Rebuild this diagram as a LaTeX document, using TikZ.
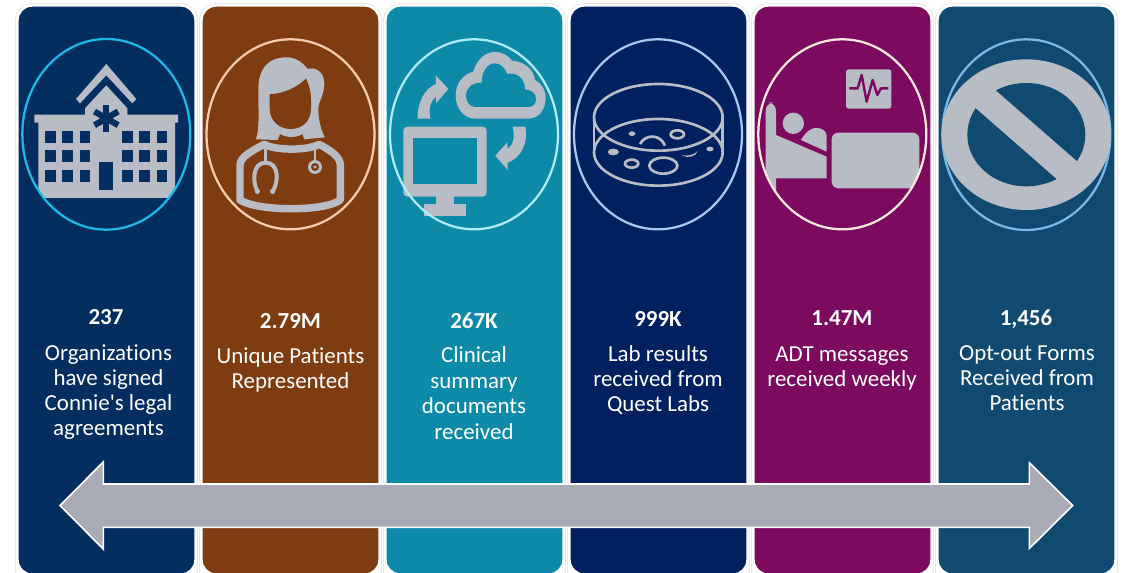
\documentclass[tikz,border=0pt]{standalone}
\usepackage{fontspec}
\setmainfont[Ligatures=NoCommon]{Carlito}
\definecolor{pa}{HTML}{042E60}
\definecolor{pb}{HTML}{7F3C10}
\definecolor{pc}{HTML}{0C8AA8}
\definecolor{pd}{HTML}{012060}
\definecolor{pe}{HTML}{7C0A5E}
\definecolor{pf}{HTML}{114A70}
\definecolor{ra}{HTML}{1CB8E8}
\definecolor{rb}{HTML}{F8CBAD}
\definecolor{rc}{HTML}{B0ECF6}
\definecolor{rd}{HTML}{A8C8F0}
\definecolor{re}{HTML}{FBE9D9}
\definecolor{rf}{HTML}{7AB8E8}
\definecolor{icon}{HTML}{B8BCC4}
\definecolor{bar}{HTML}{A9ACB6}
\definecolor{halo}{HTML}{E8E8E8}
\tikzset{
  panelbox/.style={rounded corners=10.5pt,line width=1.1pt,draw=white},
  halobox/.style={rounded corners=12pt,draw=halo,line width=.6pt,fill=white},
  ring/.style={line width=1.7pt},
  num/.style={anchor=base,inner sep=0pt,text=white,font=\fontsize{17.2}{19}\selectfont\bfseries},
  body/.style={anchor=north,inner sep=0pt,text=white,align=center,font=\fontsize{17.2}{18.75}\selectfont},
  bodywide/.style={body,font=\fontsize{17.2}{19.1}\selectfont},
  zoomed/.style={x=.25pt,y=-.25pt},
}
\newcommand{\fl}{\rule{0pt}{12pt}}
\newcommand{\panelat}[2]{%
  \path[halobox] (#1-2.5,3.5) rectangle (#1+179.5,590);
  \path[panelbox,fill=#2] (#1,6) rectangle (#1+177,574);
}
\begin{document}
\begin{tikzpicture}[x=.75pt,y=-.75pt]
\useasboundingbox (0,0) rectangle (1125,573);
\fill[white] (0,0) rectangle (1125,573);
\panelat{18}{pa}
\panelat{202}{pb}
\panelat{386}{pc}
\panelat{570}{pd}
\panelat{754}{pe}
\panelat{938}{pf}

% --- hospital
\begin{scope}[shift={(0,0)},zoomed]
 \begin{scope}
  \clip (319,403) ellipse [x radius=252,y radius=286];
  \fill[icon] (319,256) -- (255,325) -- (255,344) -- (103,344) -- (103,368) -- (115,368) -- (115,594) -- (525,594) -- (525,368) -- (534,368) -- (534,344) -- (382,344) -- (382,325) -- cycle;
 \end{scope}
 \fill[icon] (319,192) -- (228,297) -- (240,310) -- (319,226) -- (397,310) -- (409,297) -- cycle;
 \foreach \wx in {135,187,239,366,418,470} \foreach \wy in {392,451,511}
   \fill[pa] (\wx,\wy) rectangle +(32,36);
 \fill[pa] (298,487) rectangle (340,570);
 \foreach \ang in {0,60,120}
   \draw[pa,line width=4.6pt] (319,355) ++(90+\ang:41) -- ++(270+\ang:82);
 \draw[ra,ring] (319,403) ellipse [x radius=252,y radius=286];
\end{scope}

% --- doctor
\begin{scope}[shift={(225,50)},zoomed]
 \fill[icon] (93,268) .. controls (104,235) and (100,190) .. (100,120) .. controls (100,60) and (125,22) .. (185,22) .. controls (215,22) and (235,40) .. (248,57) .. controls (270,50) and (298,65) .. (298,100) .. controls (298,135) and (282,150) .. (280,175) .. controls (280,215) and (290,245) .. (300,262) -- (238,268) -- (232,252) .. controls (215,264) and (185,264) .. (165,252) -- (158,270) -- cycle;
 \fill[pb] (134,133) .. controls (180,130) and (220,110) .. (243,85) .. controls (252,105) and (258,125) .. (258,150) -- (258,175) .. controls (258,215) and (230,237) .. (197,237) .. controls (160,237) and (134,210) .. (134,175) -- cycle;
 \draw[icon,line width=5.6pt,line join=round] (45,345) .. controls (45,320) and (85,300) .. (118,283) .. controls (150,302) and (250,302) .. (282,283) .. controls (315,300) and (346,320) .. (346,345) -- (346,450) .. controls (300,485) and (100,485) .. (45,450) -- cycle;
 \draw[icon,line width=2pt] (122,290) -- (122,338);
 \draw[icon,line width=3pt] (97,424) .. controls (82,395) and (82,338) .. (122,338) .. controls (162,338) and (162,395) .. (143,424);
 \fill[icon] (97,424) circle (8) (143,424) circle (8);
 \draw[icon,line width=2pt] (270,290) -- (270,335);
 \fill[icon] (270,351) circle (21);
 \fill[pb] (270,351) circle (12);
 \fill[icon] (270,351) circle (5);
\end{scope}
\draw[rb,ring] (290.5,134.3) ellipse [x radius=84,y radius=95];

% --- computer and cloud
\begin{scope}[shift={(380,0)},zoomed]
 \fill[icon] (285,356) .. controls (252,356) and (227,325) .. (227,287) .. controls (227,250) and (250,222) .. (280,215) .. controls (290,180) and (315,156) .. (345,156) .. controls (368,156) and (385,168) .. (397,182) .. controls (435,185) and (462,210) .. (465,240) .. controls (485,250) and (497,270) .. (497,295) .. controls (497,330) and (475,356) .. (445,356) -- cycle;
 \fill[pc] (285,321) .. controls (270,321) and (258,305) .. (258,287) .. controls (258,265) and (275,248) .. (305,248) .. controls (305,215) and (322,190) .. (345,190) .. controls (362,190) and (375,205) .. (382,222) .. controls (410,215) and (435,235) .. (435,268) .. controls (455,270) and (468,280) .. (468,297) .. controls (468,312) and (458,321) .. (445,321) -- cycle;
 \fill[icon,rounded corners=3pt] (70,380) rectangle (320,590);
 \fill[pc] (100,415) rectangle (290,553);
 \fill[icon] (168,585) rectangle (222,612);
 \fill[icon] (132,612) rectangle (258,648);
 \fill[icon] (113,356) .. controls (112,305) and (135,265) .. (168,252) -- (167,226) -- (205,267) -- (168,310) -- (168,290) .. controls (150,305) and (145,330) .. (152,356) -- cycle;
 \fill[icon] (436,380) .. controls (445,435) and (420,475) .. (383,488) -- (383,510) -- (346,467) -- (382,427) -- (383,447) .. controls (400,435) and (405,410) .. (398,380) -- cycle;
\end{scope}
\draw[rc,ring] (474,134.3) ellipse [x radius=84,y radius=95];

% --- petri dish
\begin{scope}[shift={(585,75)},zoomed]
 \tikzset{dish/.style={draw=icon,line width=2pt}}
 \path[dish] (220,127) ellipse [x radius=193,y radius=100];
 \path[dish] (220,232) ellipse [x radius=193,y radius=100];
 \path[dish] (27,127) -- (27,232) (413,127) -- (413,232);
 \fill[icon] (141,176) ellipse [x radius=10,y radius=7];
 \fill[icon] (85,231) ellipse [x radius=17,y radius=10];
 \fill[icon] (375,222) ellipse [x radius=11,y radius=7];
 \path[dish] (277,178) ellipse [x radius=20,y radius=12];
 \path[dish] (140,266) ellipse [x radius=20,y radius=12];
 \path[dish] (235,272) ellipse [x radius=42,y radius=24];
 \path[dish] (165,207) .. controls (180,178) and (225,175) .. (240,212);
 \fill[icon] (290,240) .. controls (305,245) and (328,240) .. (338,228) .. controls (335,245) and (305,252) .. (290,240) -- cycle;
\end{scope}
\draw[rd,ring] (658,134.3) ellipse [x radius=84,y radius=95];

% --- patient bed
\begin{scope}[shift={(745,0)},zoomed]
 \fill[icon,rounded corners=2pt] (303,208) rectangle (439,326);
 \draw[pe,line width=1.8pt,line join=round] (313,265) -- (338,265) -- (350,225) -- (365,305) -- (383,240) -- (397,285) -- (408,265) -- (430,265);
 \begin{scope}
  \clip (292,403) ellipse [x radius=252,y radius=286];
  \fill[icon,rounded corners=6pt] (62,600) -- (62,308) -- (93,308) -- (93,360) [sharp corners] -- (93,405) -- (245,470) -- (245,535) -- (93,535) -- (93,600) -- cycle;
  \fill[icon,rounded corners=5pt] (260,398) rectangle (523,565);
 \end{scope}
 \fill[icon] (145,370) circle (32);
 \fill[icon] (168,420) .. controls (185,390) and (205,380) .. (225,385) .. controls (240,390) and (245,400) .. (245,410) -- (245,455) -- cycle;
\end{scope}
\draw[re,ring] (842.3,134.3) ellipse [x radius=84,y radius=95];

% --- opt-out sign
\begin{scope}[shift={(745,0)},zoomed]
 \draw[rf,ring] (844,404) ellipse [x radius=252,y radius=286];
 \fill[icon] (844,404) ellipse [x radius=254,y radius=226];
 \fill[pf] (844,404) ellipse [x radius=177,y radius=155];
 \fill[icon] (677,311) -- (950,550) -- (1010,496) -- (737,258) -- cycle;
\end{scope}

% --- labels
\node[num] (na) at (106,325) {237};
\node[body] (ta) at (108.5,344) {\fl Organizations\\have signed\\Connie\textquotesingle s legal\\agreements};
\node[num] (nb) at (290.5,329) {2.79M};
\node[body] (tb) at (290.5,347.5) {\fl Unique Patients\\Represented};
\node[num] (nc) at (474,328.5) {267K};
\node[bodywide] (tc) at (474,346.5) {\fl Clinical\\summary\\documents\\received};
\node[num] (nd) at (658,326.5) {999K};
\node[body] (td) at (658,345) {\fl Lab results\\received from\\Quest Labs};
\node[num] (ne) at (842,326) {1.47M};
\node[body] (te) at (842,345) {\fl ADT messages\\received weekly};
\node[num] (nf) at (1026,325.5) {1,456};
\node[body] (tf) at (1027,344) {\fl Opt-out Forms\\Received from\\Patients};

% --- double arrow
\fill[bar,draw=white,line width=1.2pt,line join=miter] (60,505.5) -- (103.3,462) -- (103.3,484) -- (1029.3,484) -- (1029.3,462.7) -- (1072.7,505.5) -- (1029.3,548.5) -- (1029.3,527.3) -- (103.3,527.3) -- (103.3,549) -- cycle;
\end{tikzpicture}
\end{document}
